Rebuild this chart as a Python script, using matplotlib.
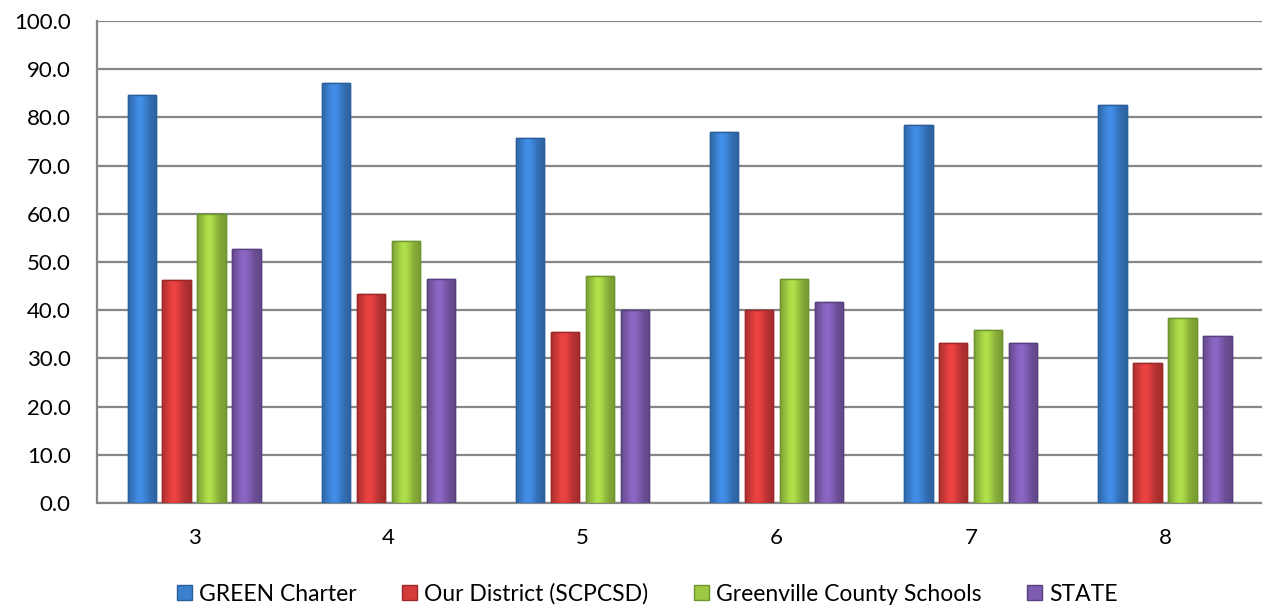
import numpy as np
import matplotlib
matplotlib.use("Agg")
import matplotlib.pyplot as plt
from matplotlib.colors import to_rgb

grades = ["3", "4", "5", "6", "7", "8"]
series_names = ["GREEN Charter", "Our District (SCPCSD)", "Greenville County Schools", "STATE"]
green_charter = [84.6, 87.1, 75.7, 76.9, 78.4, 82.5]
our_district = [46.2, 43.3, 35.4, 40.0, 33.3, 29.0]
greenville = [60.0, 54.4, 47.2, 46.5, 35.9, 38.3]
state = [52.6, 46.4, 40.0, 41.7, 33.3, 34.6]
y_ticks = [0, 10, 20, 30, 40, 50, 60, 70, 80, 90, 100]

colors = ["#3B7FCF", "#D43B3B", "#9DC842", "#7E5CB0"]
edges = ["#2B5F9C", "#9E2828", "#6E9430", "#58407F"]

plt.rcParams['font.family'] = ['Lato', 'DejaVu Sans']

fig = plt.figure(figsize=(12.62, 6.09), dpi=100)
ax = fig.add_axes([0.0769, 0.174, 0.9231, 0.7915])

# shading across the bar width: dark edges, light just left of centre
t = np.linspace(0, 1, 64)
shade = 0.78 + 0.34 * np.exp(-((t - 0.42) / 0.3) ** 2)

x = np.arange(len(grades))
width = 0.146
step = 0.18
all_series = [green_charter, our_district, greenville, state]
for i, vals in enumerate(all_series):
    bars = ax.bar(x + (i - 1.5) * step, vals, width, color=colors[i], edgecolor=edges[i],
                  linewidth=1, label=series_names[i], zorder=3)
    rgb = np.array(to_rgb(colors[i]))
    grad = np.clip(shade[None, :, None] * rgb[None, None, :], 0, 1)
    for b in bars:
        x0, y0 = b.get_x(), b.get_y()
        im = ax.imshow(grad, extent=[x0, x0 + b.get_width(), y0, y0 + b.get_height()],
                       aspect='auto', zorder=3.5, interpolation='bilinear')
        im.set_clip_path(b)
    ax.bar(x + (i - 1.5) * step, vals, width, fill=False, edgecolor=edges[i],
           linewidth=1, zorder=4)

ax.set_xlim(-0.5, 5.5)
ax.set_ylim(0, 100)
ax.set_yticks(y_ticks)
ax.set_yticklabels(["%.1f" % v for v in y_ticks])
ax.set_xticks(x)
ax.set_xticklabels(grades)
ax.tick_params(axis='both', length=0, labelsize=16, colors='black')
ax.tick_params(axis='y', pad=19)
ax.tick_params(axis='x', pad=18)

ax.yaxis.grid(True, color='#878787', linewidth=1.6, zorder=0)
ax.set_axisbelow(True)
for s in ['top', 'right']:
    ax.spines[s].set_visible(False)
for s in ['left', 'bottom']:
    ax.spines[s].set_color('#878787')
    ax.spines[s].set_linewidth(1.6)

fig.legend(loc='center', bbox_to_anchor=(0.513, 0.025), ncol=4, frameon=False,
           fontsize=16.5, handlelength=0.65, handleheight=0.65, handletextpad=0.3,
           columnspacing=2.0)

fig.savefig("out.png", dpi=100)
